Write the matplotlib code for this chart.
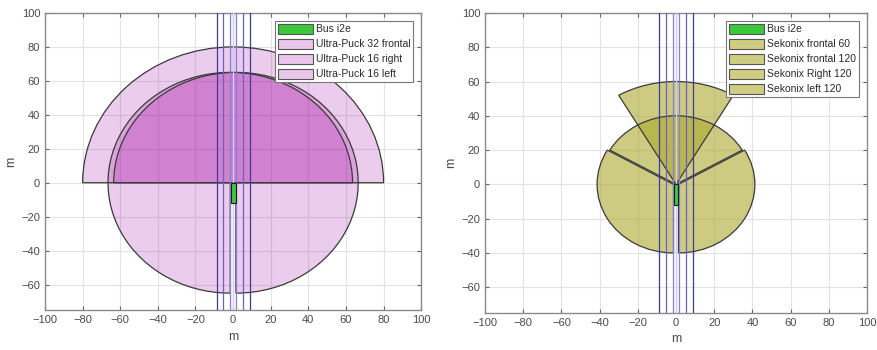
import numpy as np
import matplotlib
matplotlib.use("Agg")
import matplotlib.pyplot as plt
from matplotlib.patches import Wedge, Rectangle

plt.rcParams['font.family'] = ['Liberation Sans', 'DejaVu Sans']

# bus footprint (x0, y0, width, height) in metres
bus_rect = [-1.3, -12.0, 2.6, 12.0]

# lane markings (x positions, m)
lane_x = [-8.75, -5.25, -1.75, 0.0, 1.75, 5.25, 8.75]
lane_colors = ['#3e3c98', '#6a60c8', '#877ed8', '#cfcdf2', '#877ed8', '#6a60c8', '#3e3c98']

# lidar sensors: name, centre, range, start angle, end angle
lidar_names = ['Ultra-Puck 32 frontal', 'Ultra-Puck 16 right', 'Ultra-Puck 16 left']
lidar_centres = [(0.0, 0.0), (1.5, 0.0), (-1.5, 0.0)]
lidar_ranges = [80, 65, 65]
lidar_start = [0, -90, 0]
lidar_end = [180, 180, 270]

# camera sensors
cam_names = ['Sekonix frontal 60', 'Sekonix frontal 120', 'Sekonix Right 120', 'Sekonix left 120']
cam_centres = [(0.0, 0.0), (0.0, 0.0), (1.3, 0.0), (-1.3, 0.0)]
cam_ranges = [60, 40, 40, 40]
cam_start = [60, 30, -90, 150]
cam_end = [120, 150, 30, 270]

xticks = list(range(-100, 101, 20))
yticks = list(range(-60, 101, 20))


def setup_axes(ax):
    ax.set_xlim(-100, 100)
    ax.set_ylim(-75, 100)
    ax.set_xticks(xticks)
    ax.set_yticks(yticks)
    ax.grid(True, color='#e3e3e3', linewidth=0.8)
    ax.set_axisbelow(True)
    ax.tick_params(direction='in', length=3, labelsize=8, colors='#666666',
                   top=True, right=True, labelcolor='#4a4a4a')
    for s in ax.spines.values():
        s.set_color('#8a8a8a')
        s.set_linewidth(1.0)
    ax.set_xlabel('m', fontsize=9, color='#4a4a4a', labelpad=4)
    ax.set_ylabel('m', fontsize=9, color='#4a4a4a', labelpad=3)


def draw_sensors(ax, names, centres, ranges, t1, t2, face, alpha, legend_face):
    handles = []
    # bus first so it heads the legend
    bus = Rectangle((bus_rect[0], bus_rect[1]), bus_rect[2], bus_rect[3],
                    facecolor='#3cc83c', edgecolor='#1a1a1a', linewidth=0.8, zorder=5)
    ax.add_patch(bus)
    handles.append((Rectangle((0, 0), 1, 1, facecolor='#3cc83c', edgecolor='#555555',
                              linewidth=0.8), 'Bus i2e'))
    for n, c, r, a, b in zip(names, centres, ranges, t1, t2):
        w = Wedge(c, r, a, b, facecolor=face, alpha=alpha, edgecolor='none', zorder=2)
        ax.add_patch(w)
        e = Wedge(c, r, a, b, facecolor='none', edgecolor='#3a3a3a', linewidth=0.9, zorder=3)
        ax.add_patch(e)
        h = Rectangle((0, 0), 1, 1, facecolor=legend_face, edgecolor='#555555', linewidth=0.8)
        handles.append((h, n))
    # lanes
    ax.axvspan(lane_x[2], lane_x[4], color='#d8dcf7', alpha=0.12, zorder=1, lw=0)
    for x, col in zip(lane_x, lane_colors):
        ax.axvline(x, color=col, linewidth=0.9, zorder=4)
    leg = ax.legend([h for h, _ in handles], [n for _, n in handles],
                    loc='upper right', fontsize=7.5, handlelength=3.4, handleheight=1.1,
                    handletextpad=0.25, labelspacing=0.42, borderpad=0.3,
                    borderaxespad=0.75, fancybox=False, framealpha=1)
    leg.get_frame().set_edgecolor('#777777')
    leg.get_frame().set_linewidth(0.8)
    for t in leg.get_texts():
        t.set_color('#2a2a2a')
    leg.set_zorder(10)


fig = plt.figure(figsize=(8.77, 3.5), dpi=100)
ax1 = fig.add_axes([0.0513, 0.114, 0.429, 0.849])
ax2 = fig.add_axes([0.553, 0.106, 0.4356, 0.857])

setup_axes(ax1)
draw_sensors(ax1, lidar_names, lidar_centres, lidar_ranges, lidar_start, lidar_end,
             '#a000a0', 0.2, '#ebc6eb')

setup_axes(ax2)
draw_sensors(ax2, cam_names, cam_centres, cam_ranges, cam_start, cam_end,
             '#aca92f', 0.6, '#cfcd82')

fig.savefig('out.png', dpi=100)
